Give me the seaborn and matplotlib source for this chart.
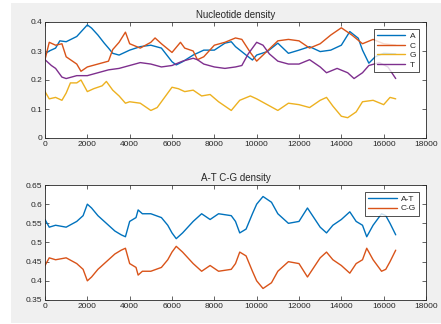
import matplotlib
matplotlib.use("Agg")
import matplotlib.pyplot as plt
from matplotlib.patches import Rectangle
from matplotlib.ticker import FormatStrFormatter
import seaborn as sns

# data (position along sequence, density)
a_x = [0, 200, 500, 700, 1000, 1500, 2000, 2200, 2500, 2800, 3000, 3200, 3500, 4000, 4500, 5000, 5500,
       6000, 6200, 6500, 7000, 7500, 8000, 8500, 8800, 9000, 9500, 9800, 10000, 10500, 11000, 11500,
       12000, 12500, 13000, 13500, 14000, 14400, 14800, 15000, 15300, 15600, 16000, 16569]
a_y = [0.29, 0.30, 0.31, 0.335, 0.332, 0.35, 0.39, 0.379, 0.355, 0.327, 0.31, 0.292, 0.286, 0.303, 0.315,
       0.32, 0.31, 0.263, 0.252, 0.263, 0.286, 0.303, 0.303, 0.327, 0.332, 0.315, 0.286, 0.269, 0.286,
       0.298, 0.327, 0.292, 0.303, 0.315, 0.298, 0.303, 0.32, 0.367, 0.344, 0.303, 0.258, 0.28, 0.292, 0.29]

c_x = [0, 200, 500, 800, 1000, 1200, 1500, 1700, 2000, 2500, 3000, 3200, 3500, 3800, 4000, 4500, 5000,
       5200, 5500, 6000, 6400, 6600, 7000, 7200, 7500, 8000, 8500, 9000, 9300, 9700, 10000, 10500,
       11000, 11500, 12000, 12500, 13000, 13500, 14000, 14500, 15000, 15500, 16000, 16569]
c_y = [0.27, 0.33, 0.32, 0.325, 0.28, 0.27, 0.255, 0.23, 0.245, 0.255, 0.265, 0.305, 0.33, 0.365, 0.325,
       0.31, 0.33, 0.345, 0.325, 0.295, 0.33, 0.31, 0.30, 0.27, 0.28, 0.32, 0.33, 0.345, 0.34, 0.295,
       0.265, 0.30, 0.335, 0.34, 0.335, 0.31, 0.325, 0.355, 0.38, 0.355, 0.325, 0.34, 0.325, 0.32]

g_x = [0, 200, 500, 800, 1000, 1200, 1500, 1700, 2000, 2300, 2500, 2700, 2900, 3200, 3500, 3800, 4000,
       4500, 5000, 5300, 5600, 6000, 6300, 6600, 7000, 7400, 7800, 8200, 8800, 9200, 9700, 10000,
       10500, 11000, 11500, 12000, 12500, 13000, 13300, 13600, 14000, 14300, 14700, 15000, 15500,
       16000, 16300, 16569]
g_y = [0.16, 0.135, 0.14, 0.13, 0.155, 0.19, 0.19, 0.20, 0.16, 0.17, 0.175, 0.18, 0.195, 0.165, 0.145,
       0.12, 0.125, 0.12, 0.095, 0.105, 0.135, 0.175, 0.17, 0.16, 0.165, 0.145, 0.15, 0.125, 0.095,
       0.13, 0.145, 0.135, 0.115, 0.095, 0.12, 0.115, 0.105, 0.13, 0.14, 0.11, 0.075, 0.07, 0.09,
       0.125, 0.13, 0.115, 0.14, 0.135]

t_x = [0, 300, 500, 800, 1000, 1500, 2000, 2500, 3000, 3500, 4000, 4500, 5000, 5500, 6000, 6500, 7000,
       7200, 7500, 8000, 8500, 9000, 9300, 9600, 10000, 10300, 10600, 11000, 11500, 12000, 12500,
       12800, 13000, 13300, 13800, 14300, 14600, 15000, 15300, 15800, 16200, 16569]
t_y = [0.27, 0.25, 0.24, 0.21, 0.205, 0.215, 0.215, 0.225, 0.235, 0.24, 0.25, 0.26, 0.255, 0.245, 0.25,
       0.265, 0.275, 0.27, 0.255, 0.245, 0.24, 0.245, 0.25, 0.29, 0.33, 0.32, 0.29, 0.265, 0.255, 0.255,
       0.27, 0.255, 0.245, 0.225, 0.24, 0.225, 0.205, 0.225, 0.25, 0.26, 0.245, 0.205]

at_x = [0, 200, 500, 1000, 1500, 1800, 2000, 2200, 2500, 3000, 3300, 3600, 3800, 4000, 4300, 4400, 4600,
        5000, 5500, 5800, 6000, 6200, 6500, 7000, 7400, 7800, 8200, 8800, 9000, 9200, 9500, 9800,
        10000, 10300, 10700, 11000, 11500, 12000, 12400, 12700, 13000, 13300, 13600, 14000, 14400,
        14700, 15000, 15200, 15500, 15900, 16100, 16300, 16569]
at_y = [0.56, 0.54, 0.545, 0.54, 0.555, 0.57, 0.60, 0.59, 0.57, 0.545, 0.53, 0.52, 0.515, 0.555, 0.565,
        0.585, 0.575, 0.575, 0.565, 0.545, 0.525, 0.51, 0.525, 0.555, 0.575, 0.56, 0.575, 0.57, 0.555,
        0.525, 0.535, 0.575, 0.60, 0.62, 0.605, 0.575, 0.55, 0.555, 0.59, 0.565, 0.54, 0.525, 0.545,
        0.56, 0.58, 0.555, 0.545, 0.515, 0.545, 0.575, 0.57, 0.55, 0.52]

cg_x = at_x
cg_y = [0.44, 0.46, 0.455, 0.46, 0.445, 0.43, 0.40, 0.41, 0.43, 0.455, 0.47, 0.48, 0.485, 0.445, 0.435,
        0.415, 0.425, 0.425, 0.435, 0.455, 0.475, 0.49, 0.475, 0.445, 0.425, 0.44, 0.425, 0.43, 0.445,
        0.475, 0.465, 0.425, 0.40, 0.38, 0.395, 0.425, 0.45, 0.445, 0.41, 0.435, 0.46, 0.475, 0.455,
        0.44, 0.42, 0.445, 0.455, 0.485, 0.455, 0.425, 0.43, 0.45, 0.48]

top_series = [("A", a_x, a_y), ("C", c_x, c_y), ("G", g_x, g_y), ("T", t_x, t_y)]
bottom_series = [("A-T", at_x, at_y), ("C-G", cg_x, cg_y)]
colors = ["#0072BD", "#D95319", "#EDB120", "#7E2F8E"]

sns.set_theme(style="ticks")
plt.rcParams["font.family"] = ["Liberation Sans", "DejaVu Sans"]

fig = plt.figure(figsize=(4.41, 3.24), dpi=100)
fig.patch.set_facecolor("white")
# grey matlab-like figure panel
fig.patches.append(Rectangle((11 / 441, 1 / 324), 1, (320) / 324, transform=fig.transFigure,
                             facecolor="#F0F0F0", edgecolor="none", zorder=-10))

ax1 = fig.add_axes([45 / 441, (324 - 138) / 324, 381 / 441, 116 / 324])
ax2 = fig.add_axes([45 / 441, (324 - 300) / 324, 381 / 441, 115 / 324])


def style_axes(ax, title, ylim, yticks):
    ax.set_facecolor("white")
    ax.set_xlim(0, 18000)
    ax.set_ylim(*ylim)
    ax.set_xticks(range(0, 18001, 2000))
    ax.set_yticks(yticks)
    ax.yaxis.set_major_formatter(FormatStrFormatter("%g"))
    ax.tick_params(direction="in", top=True, right=True, length=3, width=0.5,
                   labelsize=6, pad=2, colors="#262626")
    for s in ax.spines.values():
        s.set_visible(True)
        s.set_linewidth(0.6)
        s.set_color("#262626")
    ax.set_title(title, fontsize=7, pad=3)
    ax.set_xlabel("")
    ax.set_ylabel("")
    leg = ax.legend(loc="upper right", fontsize=6, frameon=True, fancybox=False,
                    handlelength=3.4, handletextpad=0.5, borderpad=0.4, labelspacing=0.22,
                    borderaxespad=0.8, markerfirst=True)
    leg.get_frame().set_edgecolor("black")
    leg.get_frame().set_linewidth(0.6)


for (name, xs, ys), col in zip(top_series, colors):
    sns.lineplot(x=xs, y=ys, ax=ax1, color=col, label=name, linewidth=1.0)
style_axes(ax1, "Nucleotide density", (0, 0.4), [0, 0.1, 0.2, 0.3, 0.4])

for (name, xs, ys), col in zip(bottom_series, colors):
    sns.lineplot(x=xs, y=ys, ax=ax2, color=col, label=name, linewidth=1.0)
style_axes(ax2, "A-T C-G density", (0.35, 0.65), [0.35, 0.4, 0.45, 0.5, 0.55, 0.6, 0.65])

fig.savefig("out.png", dpi=100)
